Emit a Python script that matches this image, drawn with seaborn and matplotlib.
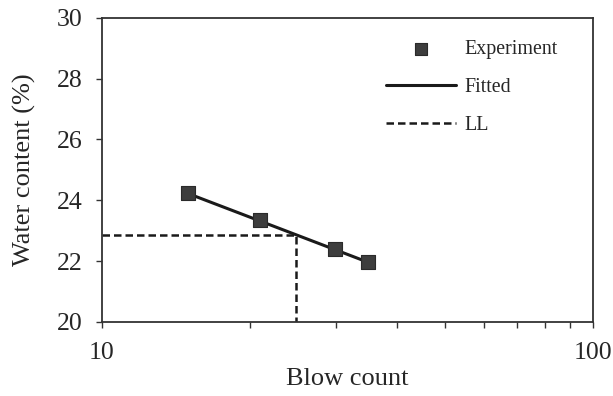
import numpy as np
import pandas as pd
import matplotlib
matplotlib.use("Agg")
import matplotlib.pyplot as plt
import seaborn as sns
from matplotlib.ticker import LogLocator, NullFormatter, FixedLocator

# data
blow_count = [15.0, 21.0, 29.8, 34.9]
water_content = [24.24, 23.36, 22.39, 21.96]

fitted_x = [15.0, 34.9]
fitted_y = [24.22, 21.96]

ll_x = [10, 24.9, 24.9]
ll_y = [22.86, 22.86, 20]

sns.set_theme(style="white")
plt.rcParams['font.family'] = ['Liberation Serif', 'DejaVu Serif']

fig = plt.figure(figsize=(6.13, 3.96), dpi=100)
ax = fig.add_axes([0.166, 0.187, 0.801, 0.768])

exp_df = pd.DataFrame({"x": blow_count, "y": water_content})
fit_df = pd.DataFrame({"x": fitted_x, "y": fitted_y})
ll_df = pd.DataFrame({"x": ll_x, "y": ll_y})

sns.lineplot(data=fit_df, x="x", y="y", ax=ax, color="#1a1a1a", linewidth=2.2,
             label="Fitted", sort=False, estimator=None, zorder=2)
sns.lineplot(data=ll_df, x="x", y="y", ax=ax, color="#1a1a1a", linewidth=1.8,
             linestyle=(0, (3, 1.6)), label="LL", sort=False, estimator=None, zorder=2)
sns.scatterplot(data=exp_df, x="x", y="y", ax=ax, marker="s", s=110, color="#3d3d3d",
                edgecolor="#2a2a2a", linewidth=0.8, label="Experiment", zorder=3)

ax.set_xscale("log")
ax.set_xlim(10, 100)
ax.set_ylim(20, 30)
ax.set_yticks([20, 22, 24, 26, 28, 30])
ax.xaxis.set_major_locator(FixedLocator([10, 100]))
ax.set_xticklabels(["10", "100"])
ax.xaxis.set_minor_locator(LogLocator(base=10, subs=np.arange(2, 10)))
ax.xaxis.set_minor_formatter(NullFormatter())

ax.tick_params(axis="both", which="major", direction="out", length=4.5, width=1.0,
               labelsize=18.5, color="#333333", bottom=True, left=True)
ax.tick_params(axis="y", which="major", pad=9.5)
ax.tick_params(axis="x", which="major", pad=10)
ax.tick_params(axis="x", which="minor", direction="out", length=4, width=1.0,
               color="#333333", bottom=True)
for s in ax.spines.values():
    s.set_color("#333333")
    s.set_linewidth(1.3)

ax.set_xlabel("Blow count", fontsize=19, labelpad=3)
ax.set_ylabel("Water content (%)", fontsize=19, labelpad=15)

handles, labels = ax.get_legend_handles_labels()
order = [labels.index(l) for l in ["Experiment", "Fitted", "LL"]]
ax.legend([handles[i] for i in order], [labels[i] for i in order],
          loc="upper right", frameon=False, fontsize=14.4, handlelength=3.5,
          handletextpad=0.4, labelspacing=0.95, bbox_to_anchor=(0.965, 0.987),
          markerscale=0.85)

fig.savefig("out.png", dpi=100)
